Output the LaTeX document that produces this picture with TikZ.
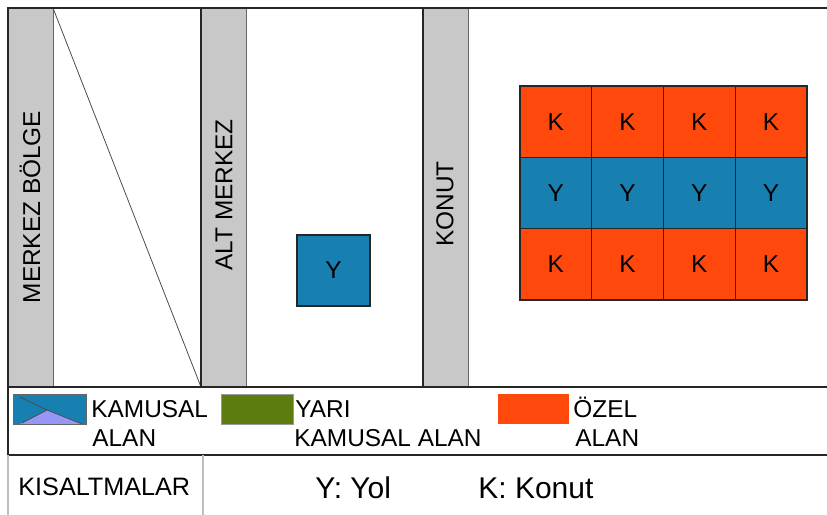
\documentclass[tikz,border=0pt]{standalone}
\usepackage{fontspec}
\setmainfont{Liberation Sans}
\usetikzlibrary{positioning}

\definecolor{yolmavi}{RGB}{24,128,176}
\definecolor{konutkirmizi}{RGB}{255,72,12}
\definecolor{seritgri}{RGB}{200,200,200}
\definecolor{yarikamu}{RGB}{92,125,14}
\definecolor{lila}{RGB}{150,150,245}

\tikzset{
  yazi/.style={font=\fontsize{12.2}{14}\selectfont, inner sep=0pt},
  buyukyazi/.style={font=\fontsize{15}{17}\selectfont, inner sep=0pt},
  serit/.style={fill=seritgri, draw=black!60, line width=0.4pt},
  cerceve/.style={draw=black!85, line width=1pt},
  hucre/.style={draw=black!85, line width=0.6pt, inner sep=0pt,
    minimum width=35.9pt, minimum height=35.7pt,
    font=\fontsize{12.2}{14}\selectfont},
  kutu/.style={line width=0.4pt}
}

\begin{document}
\begin{tikzpicture}[x=0.5pt,y=-0.5pt]
  \useasboundingbox (0,0) rectangle (827,515);

  % gri seritler
  \draw[serit] (8,8) rectangle (53,387);
  \draw[serit] (201,8) rectangle (246,387);
  \draw[serit] (423,8) rectangle (468,387);

  \draw[black!70, line width=0.4pt] (53,8) -- (201,387);

  % cerceve
  \draw[cerceve] (827,8) -- (8,8) -- (8,455);
  \draw[cerceve] (8,387) -- (827,387);
  \draw[cerceve] (8,455) -- (827,455);
  \draw[cerceve] (201,8) -- (201,387);
  \draw[cerceve] (423,8) -- (423,387);
  \draw[black!25, line width=0.8pt] (8,455) -- (8,515);
  \draw[black!25, line width=0.8pt] (203,455) -- (203,515);

  \node[yazi, rotate=90] (merkez) at (30,207) {MERKEZ BÖLGE};
  \node[yazi, rotate=90] (altmerkez) at (224,195) {ALT MERKEZ};
  \node[yazi, rotate=90] (konut) at (445,204) {KONUT};

  \node[hucre, fill=yolmavi, minimum width=36.5pt, minimum height=35.5pt]
    (yol) at (333.5,270.5) {Y};

  % konut - yol izgarasi
  \foreach \i in {0,...,3} {
    \node[hucre, fill=konutkirmizi] (k1\i) at ({520+71.75*(\i+0.5)},121.7) {K};
    \node[hucre, fill=yolmavi] (y\i) at ({520+71.75*(\i+0.5)},193) {Y};
    \node[hucre, fill=konutkirmizi] (k2\i) at ({520+71.75*(\i+0.5)},264.3) {K};
  }

  % lejant
  \fill[yolmavi] (13,394) rectangle (86,424);
  \fill[lila] (20,424) -- (47,410) -- (82,424) -- cycle;
  \draw[black!70, line width=0.4pt] (20,397) -- (47,410) -- (82,424);
  \draw[black!70, line width=0.4pt] (22,423) -- (47,410);
  \draw[kutu, black!60] (13,394) rectangle (86,424);
  \fill[yarikamu] (221,394) rectangle (293,424);
  \draw[kutu, black!40] (221,394) rectangle (293,424);
  \fill[konutkirmizi] (498,394) rectangle (569,424);

  \node[yazi, anchor=base west] (kamusal) at (91,417) {KAMUSAL};
  \node[yazi, anchor=base west] (kamusal2) at (92,446) {ALAN};
  \node[yazi, anchor=base west] (yari) at (295,417) {YARI};
  \node[yazi, anchor=base west] (yari2) at (294,446) {KAMUSAL ALAN};
  \node[yazi, anchor=base west] (ozel) at (573,417) {ÖZEL};
  \node[yazi, anchor=base west] (ozel2) at (575,446) {ALAN};

  % kisaltmalar
  \node[yazi, font=\fontsize{12.6}{15}\selectfont, anchor=base west] (kisalt) at (18,495) {KISALTMALAR};
  \node[buyukyazi, anchor=base west] (yolk) at (315,498) {Y: Yol};
  \node[buyukyazi, anchor=base west] (konutk) at (478,498) {K: Konut};
\end{tikzpicture}
\end{document}
